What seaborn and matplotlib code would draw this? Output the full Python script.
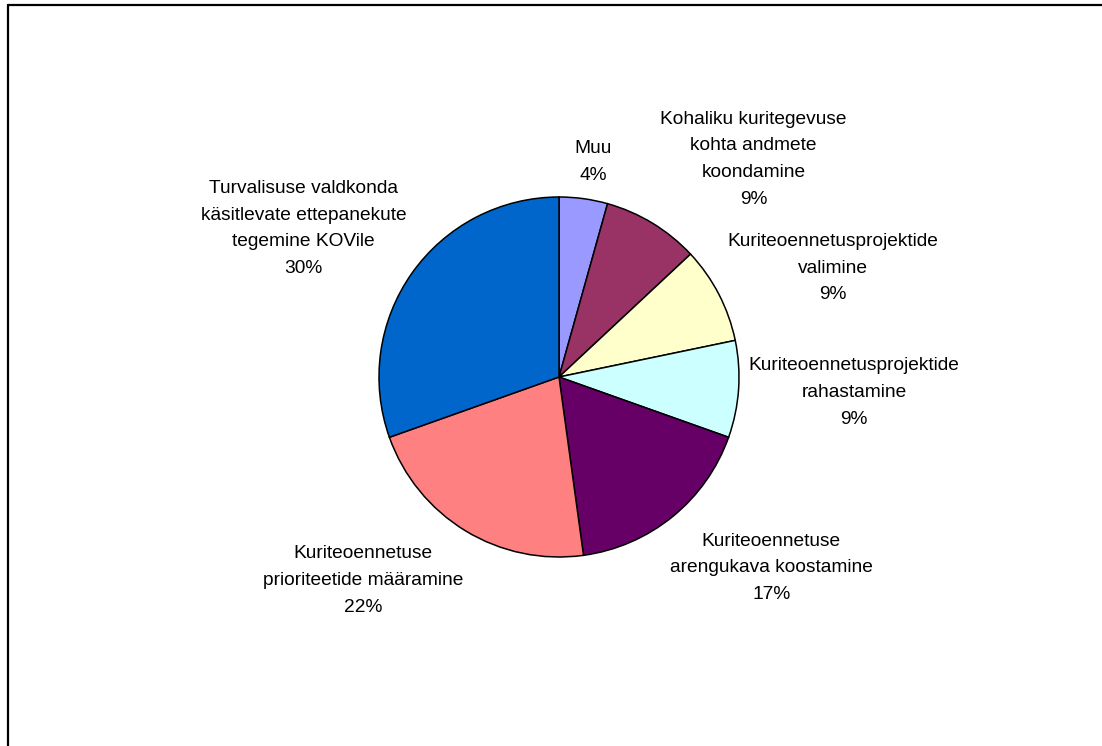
# %% Import Libraries

import matplotlib
matplotlib.use("Agg")
import matplotlib.pyplot as plt
from matplotlib.lines import Line2D
import seaborn as sns

# %% Data (answers counted per task)

categories = [
    "Muu",
    "Kohaliku kuritegevuse\nkohta andmete\nkoondamine",
    "Kuriteoennetusprojektide\nvalimine",
    "Kuriteoennetusprojektide\nrahastamine",
    "Kuriteoennetuse\narengukava koostamine",
    "Kuriteoennetuse\nprioriteetide määramine",
    "Turvalisuse valdkonda\nkäsitlevate ettepanekute\ntegemine KOVile",
]
counts = [1, 2, 2, 2, 4, 5, 7]
colors = ["#9999FF", "#993366", "#FFFFCC", "#CCFFFF", "#660066", "#FF8080", "#0066CC"]

# label centres in pie-radius units (layout, not data)
label_pos = [(0.19, 1.195), (1.08, 1.21), (1.52, 0.605), (1.64, -0.085),
             (1.18, -1.06), (-1.09, -1.13), (-1.42, 0.825)]

# %% Plot

sns.set_theme(style="white")
plt.rcParams["font.family"] = ["Liberation Sans", "DejaVu Sans"]

W, H = 1102, 746
cx, cy, R = 559, 377, 180

fig = plt.figure(figsize=(W / 100, H / 100), dpi=100)
ax = fig.add_axes([0, 0, 1, 1])

total = sum(counts)
wedges, _ = ax.pie(counts, colors=colors, startangle=90, counterclock=False,
                   wedgeprops=dict(edgecolor="black", linewidth=1.1))

for lab, n, (x, y) in zip(categories, counts, label_pos):
    ax.text(x, y, f"{lab}\n{round(100 * n / total)}%", ha="center", va="center",
            fontsize=13.8, linespacing=1.75, color="black")

ax.set_xlim(-cx / R, (W - cx) / R)
ax.set_ylim(-(H - cy) / R, cy / R)
ax.set_aspect("auto")
ax.axis("off")

# chart border (only top and left visible in the crop)
fig.add_artist(Line2D([8 / W, 1], [1 - 5 / H, 1 - 5 / H], color="black", lw=1.6))
fig.add_artist(Line2D([8 / W, 8 / W], [0, 1 - 5 / H], color="black", lw=1.6))

fig.savefig("out.png", dpi=100)
